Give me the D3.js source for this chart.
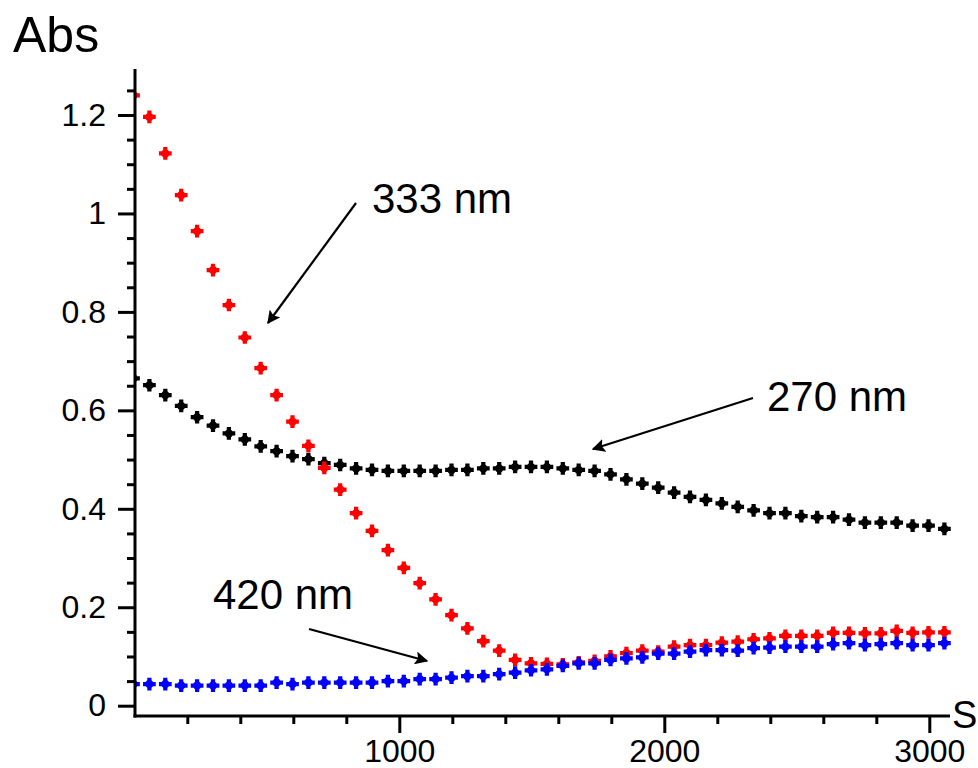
<!DOCTYPE html>
<html>
<head>
<meta charset="utf-8">
<script src="https://cdn.jsdelivr.net/npm/d3@7"></script>
<style>
  html, body { margin: 0; padding: 0; background: #fff; }
  svg { display: block; font-family: "Liberation Sans", Arial, sans-serif; }
</style>
</head>
<body>
<div id="chart"></div>
<script>
// time (s), one reading about every minute
const times = [-3, 57, 117, 177, 237, 297, 357, 417, 477, 537, 597, 657, 717, 777, 837, 897, 957,
  1017, 1077, 1137, 1197, 1257, 1317, 1377, 1437, 1497, 1557, 1617, 1677, 1737, 1797, 1857, 1917,
  1977, 2037, 2097, 2157, 2217, 2277, 2337, 2397, 2457, 2517, 2577, 2637, 2697, 2757, 2817, 2877,
  2937, 2997, 3057];

const abs270 = [0.665, 0.651, 0.631, 0.609, 0.586, 0.569, 0.553, 0.541, 0.527, 0.517, 0.507, 0.501,
  0.493, 0.489, 0.482, 0.479, 0.477, 0.477, 0.477, 0.477, 0.479, 0.479, 0.482, 0.482, 0.485, 0.485,
  0.485, 0.482, 0.479, 0.477, 0.470, 0.460, 0.451, 0.443, 0.433, 0.424, 0.418, 0.411, 0.404, 0.397,
  0.391, 0.391, 0.385, 0.383, 0.383, 0.378, 0.372, 0.372, 0.372, 0.366, 0.366, 0.359];

const abs333 = [1.24, 1.196, 1.122, 1.037, 0.964, 0.885, 0.814, 0.748, 0.686, 0.631, 0.577, 0.528,
  0.483, 0.439, 0.391, 0.355, 0.316, 0.280, 0.249, 0.216, 0.184, 0.157, 0.131, 0.112, 0.093, 0.086,
  0.085, 0.084, 0.088, 0.091, 0.100, 0.107, 0.112, 0.110, 0.120, 0.123, 0.123, 0.128, 0.130, 0.135,
  0.137, 0.142, 0.142, 0.142, 0.148, 0.148, 0.147, 0.147, 0.152, 0.148, 0.149, 0.149];

const abs420 = [0.044, 0.044, 0.044, 0.041, 0.041, 0.041, 0.041, 0.041, 0.041, 0.047, 0.044, 0.047,
  0.047, 0.047, 0.047, 0.047, 0.050, 0.050, 0.054, 0.054, 0.057, 0.060, 0.060, 0.064, 0.067, 0.072,
  0.074, 0.081, 0.086, 0.086, 0.093, 0.096, 0.098, 0.106, 0.106, 0.110, 0.113, 0.113, 0.112, 0.117,
  0.118, 0.120, 0.120, 0.120, 0.125, 0.127, 0.123, 0.125, 0.127, 0.123, 0.123, 0.127];

const yTicks = [0, 0.2, 0.4, 0.6, 0.8, 1, 1.2];
const yMinor = [0.05, 0.1, 0.15, 0.25, 0.3, 0.35, 0.45, 0.5, 0.55, 0.65, 0.7, 0.75, 0.85, 0.9, 0.95,
  1.05, 1.1, 1.15, 1.25];
const xTicks = [1000, 2000, 3000];
const xMinor = [200, 400, 600, 800, 1200, 1400, 1600, 1800, 2200, 2400, 2600, 2800];

const series = [
  {name: '270 nm', values: abs270, color: '#000000'},
  {name: '333 nm', values: abs333, color: '#ff0000'},
  {name: '420 nm', values: abs420, color: '#0000ff'}
];

const width = 978, height = 768;
const svg = d3.select('#chart').append('svg').attr('width', width).attr('height', height);

const x = d3.scaleLinear().domain([0, 3000]).range([134.3, 929.3]);
const y = d3.scaleLinear().domain([0, 1.2]).range([705.7, 115]);
const xAxisY = 716;

svg.append('defs').append('clipPath').attr('id', 'plot')
  .append('rect').attr('x', 135).attr('y', 0).attr('width', width - 135).attr('height', height);

// points
const cross = d3.symbol().type(d3.symbolCross).size(90);
const pts = svg.append('g').attr('clip-path', 'url(#plot)');
series.forEach(s => {
  const g = pts.append('g').attr('fill', s.color);
  const data = times.map((t, i) => ({t, v: s.values[i]}));
  const p = g.selectAll('g').data(data).join('g')
    .attr('transform', d => `translate(${x(d.t)},${y(d.v)})`);
  p.append('path').attr('d', cross);
  p.append('circle').attr('r', 4);
});

// y axis
const yAxis = svg.append('g').attr('transform', 'translate(135,0)');
yAxis.append('line').attr('y1', 69).attr('y2', xAxisY + 1.5).attr('stroke', '#000').attr('stroke-width', 3);
yAxis.append('g').call(d3.axisLeft(y).tickValues(yMinor).tickSize(8).tickFormat(''))
  .call(a => a.select('.domain').remove());
yAxis.append('g').call(d3.axisLeft(y).tickValues(yTicks).tickSize(17).tickPadding(12)
    .tickFormat(d => d3.format('~g')(d)))
  .call(a => a.select('.domain').remove());
yAxis.selectAll('.tick line').attr('stroke', '#000').attr('stroke-width', 3);
yAxis.selectAll('.tick text').attr('font-size', 32).attr('font-family', null).attr('fill', '#000');

// x axis
const xAxis = svg.append('g').attr('transform', `translate(0,${xAxisY})`);
xAxis.append('line').attr('x1', 133.5).attr('x2', 950).attr('stroke', '#000').attr('stroke-width', 3);
xAxis.append('g').call(d3.axisBottom(x).tickValues(xMinor).tickSize(8).tickFormat(''))
  .call(a => a.select('.domain').remove());
xAxis.append('g').call(d3.axisBottom(x).tickValues(xTicks).tickSize(17).tickPadding(6)
    .tickFormat(d3.format('d')))
  .call(a => a.select('.domain').remove());
xAxis.selectAll('.tick line').attr('stroke', '#000').attr('stroke-width', 3);
xAxis.selectAll('.tick text').attr('font-size', 32).attr('font-family', null).attr('fill', '#000');

// axis titles
svg.append('text').attr('x', 13).attr('y', 52).attr('font-size', 50).text('Abs');
svg.append('text').attr('x', 952).attr('y', 728).attr('font-size', 38).text('S');

// annotations with arrows
svg.append('defs').append('marker').attr('id', 'head')
  .attr('viewBox', '0 0 10 10').attr('refX', 9).attr('refY', 5)
  .attr('markerWidth', 6).attr('markerHeight', 6).attr('orient', 'auto')
  .append('path').attr('d', 'M0,0L10,5L0,10L2,5Z').attr('fill', '#000');

const notes = [
  {text: '333 nm', tx: 372, ty: 213, from: [356, 203], to: [268, 323]},
  {text: '270 nm', tx: 767, ty: 411, from: [753, 398], to: [593, 449]},
  {text: '420 nm', tx: 213, ty: 609, from: [309, 629], to: [427, 661]}
];
notes.forEach(n => {
  svg.append('line').attr('x1', n.from[0]).attr('y1', n.from[1])
    .attr('x2', n.to[0]).attr('y2', n.to[1])
    .attr('stroke', '#000').attr('stroke-width', 2.2).attr('marker-end', 'url(#head)');
  svg.append('text').attr('x', n.tx).attr('y', n.ty).attr('font-size', 42).text(n.text);
});
</script>
</body>
</html>
